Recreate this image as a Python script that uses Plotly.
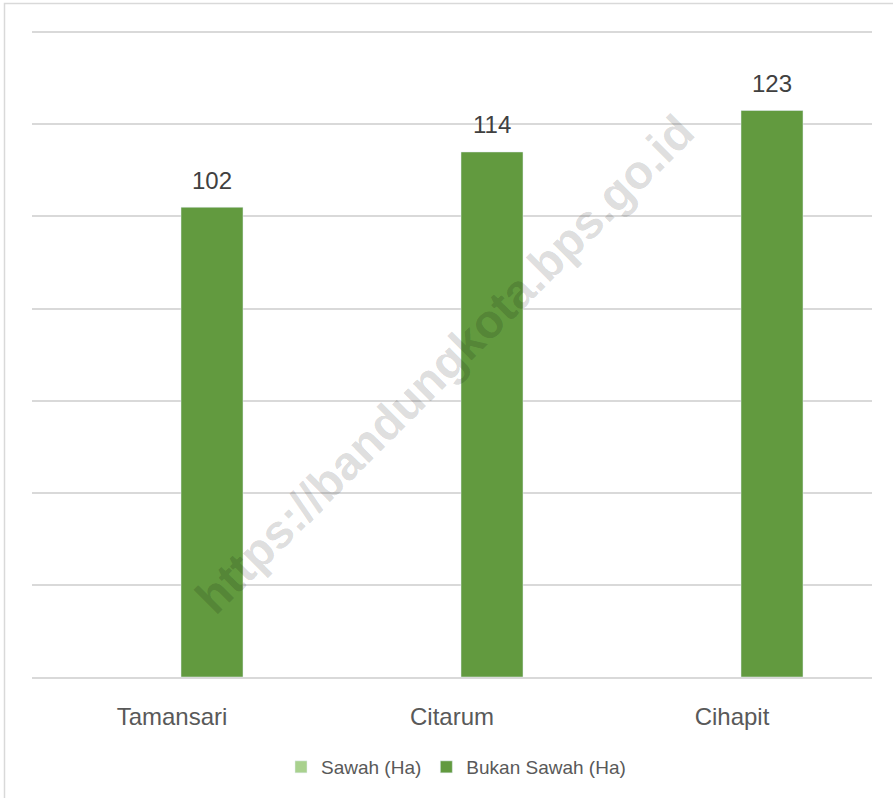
import plotly.graph_objects as go

categories = ["Tamansari", "Citarum", "Cihapit"]
sawah = [None, None, None]
bukan_sawah = [102, 114, 123]
series_names = ["Sawah (Ha)", "Bukan Sawah (Ha)"]

FONT = "Liberation Sans"

fig = go.Figure()
fig.add_trace(go.Bar(
    x=categories, y=sawah, name=series_names[0],
    marker=dict(color="#A9D18E"), showlegend=True,
))
fig.add_trace(go.Bar(
    x=categories, y=bukan_sawah, name=series_names[1],
    marker=dict(color="#629A3F"),
))

W, H = 893, 798
L, R, T, B = 32, 21, 23, 121
pw, ph = W - L - R, H - T - B

bargap, bargroupgap = 0.4286, 0.225
cat_px = pw / len(categories)
slot_px = cat_px * (1 - bargap) / 2
offset_px = slot_px / 2

def px2paper(x, y):
    return (x - L) / pw, (H - B - y) / ph

for c, v in zip(categories, bukan_sawah):
    fig.add_annotation(
        x=c, y=v, xref="x", yref="y", text=str(v), showarrow=False,
        xshift=offset_px, yshift=27, yanchor="middle",
        font=dict(family=FONT, size=24, color="#404040"),
    )

bx0, by0 = px2paper(4.5, 3.5)
bx1, by1 = px2paper(W + 5, H + 5)
lx, ly = px2paper(456, 767)

fig.update_layout(
    width=W, height=H,
    margin=dict(l=L, r=R, t=T, b=B),
    paper_bgcolor="white", plot_bgcolor="white",
    barmode="group", bargap=bargap, bargroupgap=bargroupgap,
    font=dict(family=FONT, color="#595959"),
    showlegend=True,
    legend=dict(
        orientation="h", x=lx, xanchor="center", y=ly, yanchor="middle",
        font=dict(family=FONT, size=19, color="#595959"),
        itemwidth=30, traceorder="normal",
    ),
    xaxis=dict(
        showgrid=False, showline=True, linecolor="#D9D9D9", linewidth=1.5,
        tickfont=dict(family=FONT, size=24, color="#595959"),
        ticks="", ticklabelstandoff=17,
    ),
    yaxis=dict(
        range=[0, 142], tickvals=[0, 20, 40, 60, 80, 100, 120, 140],
        showticklabels=False,
        showgrid=True, gridcolor="#D9D9D9", gridwidth=1.5,
        zeroline=False, showline=False,
    ),
    shapes=[dict(
        type="rect", xref="paper", yref="paper",
        x0=bx0, y0=by1, x1=bx1, y1=by0,
        line=dict(color="#D9D9D9", width=1.5), fillcolor="rgba(0,0,0,0)",
        layer="above",
    )],
)

wx, wy = px2paper(444, 364)
fig.add_annotation(
    text="https://bandungkota.bps.go.id", xref="paper", yref="paper",
    x=wx, y=wy, xanchor="center", yanchor="middle", showarrow=False,
    textangle=-45,
    font=dict(family=FONT, size=47.5, color="rgba(0,0,0,0.15)", weight="bold"),
)

fig.write_html(
    "out.html",
    config={"displayModeBar": False},
    post_script="document.body.style.margin='0';document.body.style.overflow='hidden';",
)
